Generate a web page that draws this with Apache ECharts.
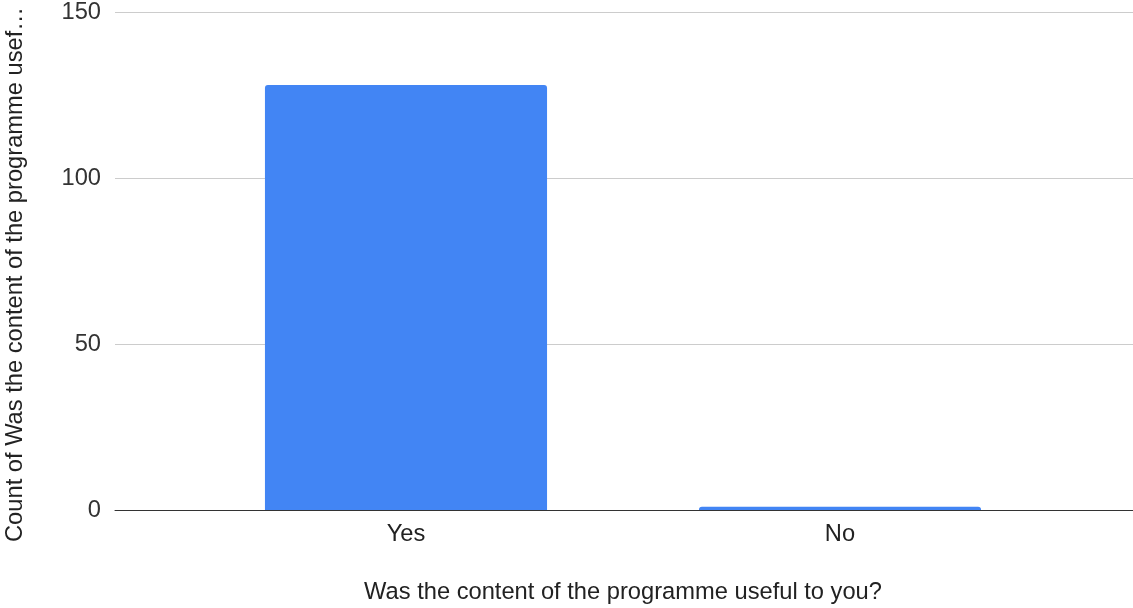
<!DOCTYPE html>
<html><head><meta charset="utf-8">
<script src="https://cdn.jsdelivr.net/npm/echarts@6/dist/echarts.min.js"></script>
<style>html,body{margin:0;padding:0;background:#fff}#c{width:1133px;height:608px}</style>
</head><body><div id="c"></div>
<script>
const categories = ['Yes', 'No'];
const counts = [128, 1];
const yTicks = [0, 50, 100, 150];
const xTitle = 'Was the content of the programme useful to you?';
const yTitle = 'Count of Was the content of the programme useful to you?';

const font = 'Liberation Sans, Arial, sans-serif';
const fs = 23.7;
const chart = echarts.init(document.getElementById('c'), null, {renderer: 'canvas'});
chart.setOption({
  animation: false,
  backgroundColor: '#ffffff',
  grid: [
    {left: 115, right: 0, top: 12, bottom: 98, containLabel: false, outerBoundsMode: 'none'},
    {left: 189, right: 76, top: 12, bottom: 98, containLabel: false, outerBoundsMode: 'none'},
    {left: 115, right: 0, top: 2, bottom: 61, containLabel: false, outerBoundsMode: 'none'}
  ],
  xAxis: [
    {gridIndex: 0, type: 'category', data: [''], axisLine: {show: true, lineStyle: {color: '#333', width: 1}},
     axisTick: {show: false}, axisLabel: {show: false}, z: 10},
    {gridIndex: 1, type: 'category', data: categories,
     axisLine: {show: false}, axisTick: {show: false},
     axisLabel: {color: '#222', fontSize: fs, fontFamily: font, margin: 12},
     name: xTitle, nameLocation: 'middle', nameGap: 70,
     nameTextStyle: {color: '#222', fontSize: fs, fontFamily: font}},
    {gridIndex: 2, type: 'category', data: [''], show: false}
  ],
  yAxis: [
    {gridIndex: 0, type: 'value', min: yTicks[0], max: yTicks[yTicks.length - 1], interval: 50,
     axisLine: {show: false}, axisTick: {show: false},
     axisLabel: {color: '#333', fontSize: fs, fontFamily: font, margin: 14},
     splitLine: {lineStyle: {color: '#ccc', width: 1}}},
    {gridIndex: 1, type: 'value', min: yTicks[0], max: yTicks[yTicks.length - 1], interval: 50,
     show: false, splitLine: {show: false}},
    {gridIndex: 2, type: 'value', min: 0, max: 1,
     axisLine: {show: false}, axisTick: {show: false}, axisLabel: {show: false},
     splitLine: {show: false},
     name: yTitle, nameLocation: 'middle', nameGap: 88, nameRotate: 90,
     nameTruncate: {maxWidth: 546, ellipsis: '…'},
     nameTextStyle: {color: '#222', fontSize: fs, fontFamily: font}}
  ],
  series: [{
    type: 'bar', xAxisIndex: 1, yAxisIndex: 1, data: counts,
    barCategoryGap: '35%',
    itemStyle: {color: '#4285f4', borderRadius: [3, 3, 0, 0]}
  }]
});
</script></body></html>
